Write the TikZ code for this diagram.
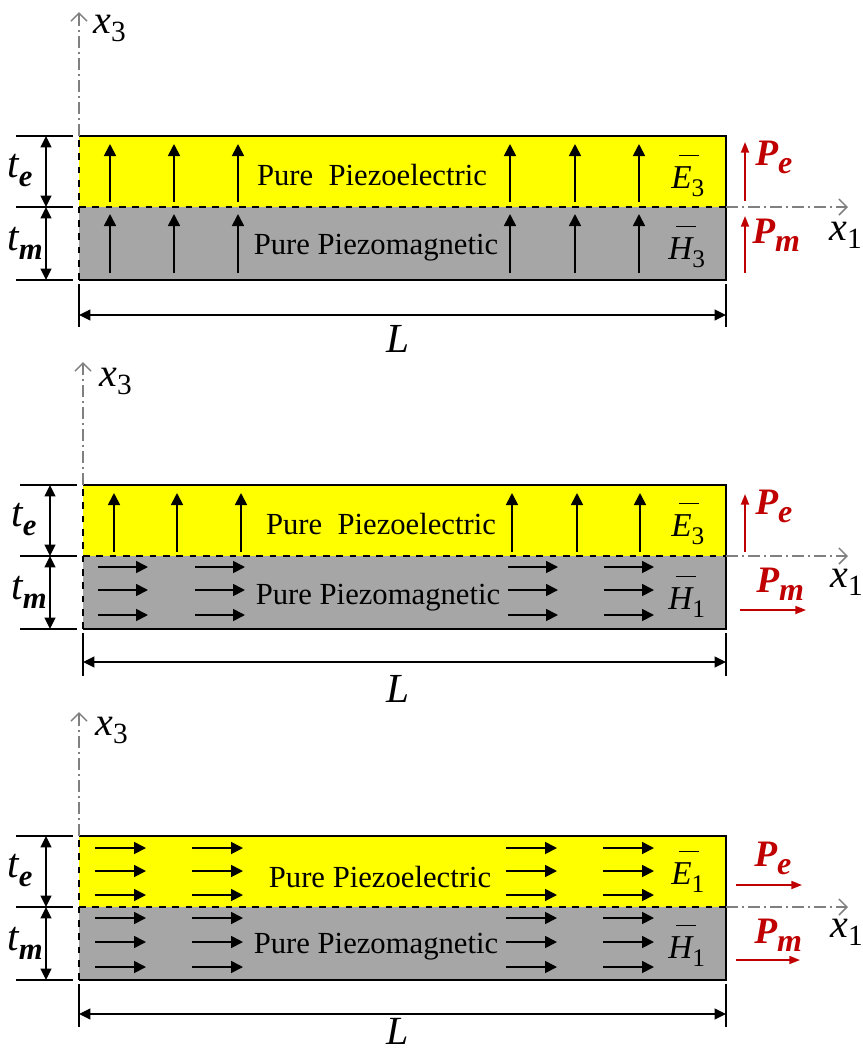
\documentclass[tikz,border=0pt]{standalone}
\usepackage{fontspec}
\setmainfont{Liberation Serif}
\usetikzlibrary{arrows.meta}
\definecolor{pyellow}{RGB}{255,255,0}
\definecolor{pgray}{RGB}{166,166,166}
\definecolor{pred}{RGB}{192,0,0}
\definecolor{axgray}{RGB}{128,128,128}
% axis label x_i
\newcommand{\axl}[1]{{\fontsize{30}{30}\selectfont\itshape x}\raisebox{-6pt}{\fontsize{22}{22}\selectfont #1}}
% thickness label t_e
\newcommand{\thl}[1]{{\fontsize{31}{31}\selectfont\itshape t}\raisebox{-7pt}{\fontsize{23}{23}\selectfont\bfseries\itshape #1}}
% polarization label P_e
\newcommand{\pol}[1]{{\fontsize{28}{28}\selectfont\bfseries\itshape P}\raisebox{-6pt}{\fontsize{24}{24}\selectfont\bfseries\itshape #1}}
% barred field label
\newcommand{\barl}[2]{{\fontsize{25}{25}\selectfont\itshape\rlap{\kern0.22em\rule[0.95em]{0.62em}{0.055em}}#1}\raisebox{-6pt}{\fontsize{19}{19}\selectfont #2}}
\begin{document}
\begin{tikzpicture}[x=0.75pt,y=-0.75pt,font=\fontsize{23}{27}\selectfont,
  fieldarrow/.style={line width=1.3pt,-{Triangle[length=9pt,width=9pt]}},
  dimarrow/.style={line width=1.2pt,{Triangle[length=8.5pt,width=8pt]}-{Triangle[length=8.5pt,width=8pt]}},
  dimtick/.style={line width=1.1pt},
  axisline/.style={axgray,line width=1.1pt,dash pattern=on 9pt off 3pt on 1.5pt off 3pt,-{Straight Barb[length=6pt,width=12pt,line width=1.1pt]}},
  redarrow/.style={pred,line width=1.3pt,-{Triangle[length=8pt,width=6pt]}},
  redlabel/.style={text=pred,inner sep=0pt},
  txt/.style={inner sep=0pt},
  layerborder/.style={line width=1.3pt},
  iface/.style={line width=1pt,dash pattern=on 5pt off 5pt}]
\useasboundingbox (0,0) rectangle (863,1051);

% ================= Panel 1 =================
\fill[pyellow] (79,136) rectangle (726,207);
\fill[pgray] (79,207) rectangle (726,280);
\coordinate (r1tl) at (79,136); \coordinate (r1tr) at (726,136);
\coordinate (r1br) at (726,280); \coordinate (r1bl) at (79,280);
\coordinate (r1ml) at (79,207); \coordinate (r1mr) at (726,207);
\draw[layerborder] (r1tl) -- (r1tr) -- (r1br) -- (r1bl);
\draw[iface] (r1bl) -- (r1tl);
\draw[iface] (r1ml) -- (r1mr);
\coordinate (a1top) at (79,12);
\coordinate (a1right) at (848,207);
\draw[axisline] (r1tl) -- (a1top);
\draw[axisline] (r1mr) -- (a1right);
\node[txt,anchor=base west] (x31) at (93,33) {\axl{3}};
\node[txt,anchor=base west] (x11) at (829,240) {\axl{1}};
\foreach \x in {110,174,238,510,575,639}{
  \draw[fieldarrow] (\x,202) -- (\x,144);
  \draw[fieldarrow] (\x,273) -- (\x,214);
}
\node[txt,fill=pyellow] (pe1) at (372,175) {Pure\ \ Piezoelectric};
\node[txt,fill=pgray] (pm1) at (376,248) {Pure Piezomagnetic};
\node[txt,anchor=base west] (e1) at (671,188) {\barl{E}{3}};
\node[txt,anchor=base west] (h1) at (668,259) {\barl{H}{3}};
\coordinate (d1a) at (16,136); \coordinate (d1b) at (73,136);
\coordinate (d1c) at (16,207); \coordinate (d1d) at (73,207);
\coordinate (d1e) at (16,280); \coordinate (d1f) at (73,280);
\draw[dimtick] (d1a) -- (d1b); \draw[dimtick] (d1c) -- (d1d); \draw[dimtick] (d1e) -- (d1f);
\coordinate (v1a) at (46,136); \coordinate (v1b) at (46,207); \coordinate (v1c) at (46,280);
\draw[dimarrow] (v1a) -- (v1b);
\draw[dimarrow] (v1b) -- (v1c);
\node[txt,anchor=base west] (te1) at (7,177) {\thl{e}};
\node[txt,anchor=base west] (tm1) at (7,250) {\thl{m}};
\coordinate (l1a) at (79,284); \coordinate (l1b) at (79,327);
\coordinate (l1c) at (726,284); \coordinate (l1d) at (726,327);
\draw[dimtick] (l1a) -- (l1b); \draw[dimtick] (l1c) -- (l1d);
\coordinate (l1e) at (79,315); \coordinate (l1f) at (726,315);
\draw[dimarrow] (l1e) -- (l1f);
\node[txt,anchor=base] (L1) at (398,352) {\fontsize{31}{31}\selectfont\itshape L};
\draw[redarrow] (745,201) -- (745,142);
\draw[redarrow] (745,273) -- (745,216);
\node[redlabel,anchor=base west] (Pe1) at (755,165) {\pol{e}};
\node[redlabel,anchor=base west] (Pm1) at (752,243) {\pol{m}};

% ================= Panel 2 =================
\fill[pyellow] (83,485) rectangle (726,556);
\fill[pgray] (83,556) rectangle (726,629);
\coordinate (r2tl) at (83,485); \coordinate (r2tr) at (726,485);
\coordinate (r2br) at (726,629); \coordinate (r2bl) at (83,629);
\coordinate (r2ml) at (83,556); \coordinate (r2mr) at (726,556);
\draw[layerborder] (r2tl) -- (r2tr) -- (r2br) -- (r2bl);
\draw[iface] (r2bl) -- (r2tl);
\draw[iface] (r2ml) -- (r2mr);
\coordinate (a2top) at (83,362);
\coordinate (a2right) at (848,556);
\draw[axisline] (r2tl) -- (a2top);
\draw[axisline] (r2mr) -- (a2right);
\node[txt,anchor=base west] (x32) at (99,386) {\axl{3}};
\node[txt,anchor=base west] (x12) at (830,587) {\axl{1}};
\foreach \x in {114,177,241,512,577,640}{
  \draw[fieldarrow] (\x,552) -- (\x,493);
}
\foreach \x in {98,195,508,604}{
  \foreach \y in {567,590,615}{
    \draw[fieldarrow] (\x,\y) -- ++(50,0);
  }
}
\node[txt,fill=pyellow] (pe2) at (381,524) {Pure\ \ Piezoelectric};
\node[txt,fill=pgray] (pm2) at (378,598) {Pure Piezomagnetic};
\node[txt,anchor=base west] (e2) at (671,536) {\barl{E}{3}};
\node[txt,anchor=base west] (h2) at (668,609) {\barl{H}{1}};
\coordinate (d2a) at (20,485); \coordinate (d2b) at (77,485);
\coordinate (d2c) at (20,556); \coordinate (d2d) at (77,556);
\coordinate (d2e) at (20,629); \coordinate (d2f) at (77,629);
\draw[dimtick] (d2a) -- (d2b); \draw[dimtick] (d2c) -- (d2d); \draw[dimtick] (d2e) -- (d2f);
\coordinate (v2a) at (50,485); \coordinate (v2b) at (50,556); \coordinate (v2c) at (50,629);
\draw[dimarrow] (v2a) -- (v2b);
\draw[dimarrow] (v2b) -- (v2c);
\node[txt,anchor=base west] (te2) at (11,526) {\thl{e}};
\node[txt,anchor=base west] (tm2) at (11,599) {\thl{m}};
\coordinate (l2a) at (83,633); \coordinate (l2b) at (83,676);
\coordinate (l2c) at (726,633); \coordinate (l2d) at (726,676);
\draw[dimtick] (l2a) -- (l2b); \draw[dimtick] (l2c) -- (l2d);
\coordinate (l2e) at (83,662); \coordinate (l2f) at (726,662);
\draw[dimarrow] (l2e) -- (l2f);
\node[txt,anchor=base] (L2) at (398,702) {\fontsize{31}{31}\selectfont\itshape L};
\draw[redarrow] (745,552) -- (745,494);
\draw[redarrow] (740,610) -- (806,610);
\node[redlabel,anchor=base west] (Pe2) at (755,514) {\pol{e}};
\node[redlabel,anchor=base west] (Pm2) at (756,592) {\pol{m}};

% ================= Panel 3 =================
\fill[pyellow] (79,836) rectangle (726,907);
\fill[pgray] (79,907) rectangle (726,980);
\coordinate (r3tl) at (79,836); \coordinate (r3tr) at (726,836);
\coordinate (r3br) at (726,980); \coordinate (r3bl) at (79,980);
\coordinate (r3ml) at (79,907); \coordinate (r3mr) at (726,907);
\draw[layerborder] (r3tl) -- (r3tr) -- (r3br) -- (r3bl);
\draw[iface] (r3bl) -- (r3tl);
\draw[iface] (r3ml) -- (r3mr);
\coordinate (a3top) at (79,712);
\coordinate (a3right) at (848,907);
\draw[axisline] (r3tl) -- (a3top);
\draw[axisline] (r3mr) -- (a3right);
\node[txt,anchor=base west] (x33) at (95,735) {\axl{3}};
\node[txt,anchor=base west] (x13) at (830,937) {\axl{1}};
\foreach \x in {95,192,506,603}{
  \foreach \y in {848,871,895,918,942,967}{
    \draw[fieldarrow] (\x,\y) -- ++(51,0);
  }
}
\node[txt,fill=pyellow] (pe3) at (380,877) {Pure Piezoelectric};
\node[txt,fill=pgray] (pm3) at (376,947) {Pure Piezomagnetic};
\node[txt,anchor=base west] (e3) at (671,884) {\barl{E}{1}};
\node[txt,anchor=base west] (h3) at (668,958) {\barl{H}{1}};
\coordinate (d3a) at (16,836); \coordinate (d3b) at (73,836);
\coordinate (d3c) at (16,907); \coordinate (d3d) at (73,907);
\coordinate (d3e) at (16,980); \coordinate (d3f) at (73,980);
\draw[dimtick] (d3a) -- (d3b); \draw[dimtick] (d3c) -- (d3d); \draw[dimtick] (d3e) -- (d3f);
\coordinate (v3a) at (46,836); \coordinate (v3b) at (46,907); \coordinate (v3c) at (46,980);
\draw[dimarrow] (v3a) -- (v3b);
\draw[dimarrow] (v3b) -- (v3c);
\node[txt,anchor=base west] (te3) at (7,877) {\thl{e}};
\node[txt,anchor=base west] (tm3) at (7,950) {\thl{m}};
\coordinate (l3a) at (79,984); \coordinate (l3b) at (79,1027);
\coordinate (l3c) at (726,984); \coordinate (l3d) at (726,1027);
\draw[dimtick] (l3a) -- (l3b); \draw[dimtick] (l3c) -- (l3d);
\coordinate (l3e) at (79,1014); \coordinate (l3f) at (726,1014);
\draw[dimarrow] (l3e) -- (l3f);
\node[txt,anchor=base] (L3) at (398,1044) {\fontsize{30}{30}\selectfont\itshape L};
\draw[redarrow] (736,885) -- (802,885);
\draw[redarrow] (736,960) -- (800,960);
\node[redlabel,anchor=base west] (Pe3) at (754,866) {\pol{e}};
\node[redlabel,anchor=base west] (Pm3) at (754,943) {\pol{m}};
\end{tikzpicture}
\end{document}
